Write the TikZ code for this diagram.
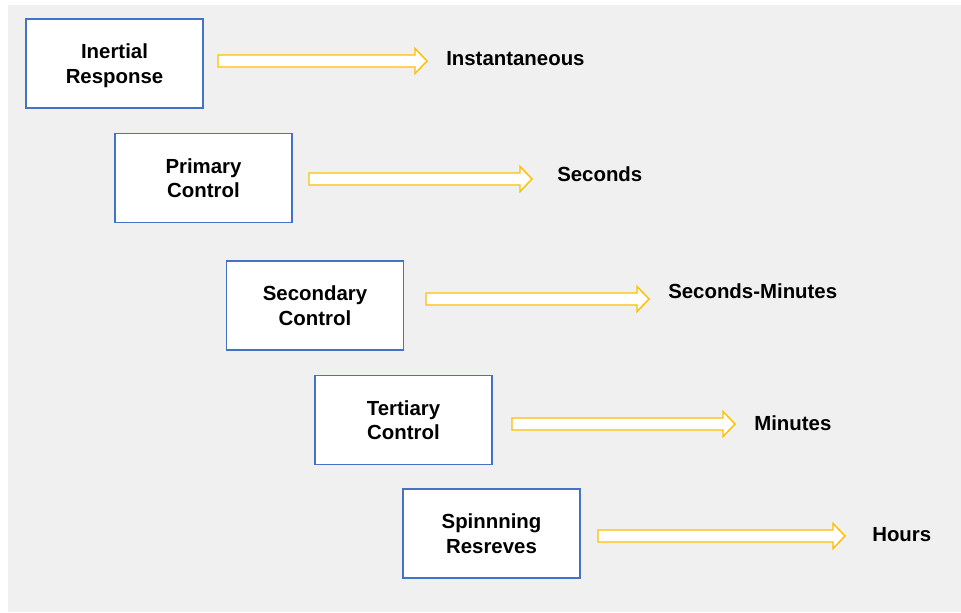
\documentclass[tikz,border=0pt]{standalone}
\usepackage{fontspec}
\setmainfont{Liberation Sans}
\usetikzlibrary{calc}
\definecolor{bggray}{HTML}{F0F0F0}
\definecolor{boxblue}{HTML}{4472C4}
\definecolor{arrowgold}{HTML}{FFC000}
\newcommand{\hollowarrow}[2]{%
  \draw[fatarrow] ($(#1)+(0,6)$) -- ($(#2)+(-12,6)$) -- ($(#2)+(-12,12.5)$) -- (#2)
    -- ($(#2)+(-12,-12.5)$) -- ($(#2)+(-12,-6)$) -- ($(#1)+(0,-6)$) -- cycle;}
\begin{document}
\begin{tikzpicture}[x=0.75pt,y=-0.75pt,
  stagebox/.style={draw=boxblue, line width=1.1pt, fill=white, minimum width=132.75pt,
    minimum height=66.75pt, inner sep=0pt, align=center, text depth=0pt,
    font=\bfseries\fontsize{15.3}{18.2}\selectfont},
  timelabel/.style={anchor=base west, inner sep=0pt, font=\bfseries\fontsize{15.3}{18.2}\selectfont},
  fatarrow/.style={draw=arrowgold, line width=1.1pt, fill=white, line join=miter}]
\useasboundingbox (0,0) rectangle (961,612);
\fill[bggray] (8,5) rectangle (961,612);

\node[stagebox] (b1) at (114.5,63.5) {Inertial\\Response};
\node[stagebox] (b2) at (203.5,178) {Primary\\Control};
\node[stagebox] (b3) at (315,305.5) {Secondary\\Control};
\node[stagebox] (b4) at (403.5,420) {Tertiary\\Control};
\node[stagebox] (b5) at (491.5,533.5) {Spinnning\\Resreves};

\node[timelabel] (t1) at (446,65) {Instantaneous};
\node[timelabel] (t2) at (557,181) {Seconds};
\node[timelabel] (t3) at (668,298) {Seconds-Minutes};
\node[timelabel] (t4) at (754,430) {Minutes};
\node[timelabel] (t5) at (872,541) {Hours};

\coordinate (s1) at (218,61);  \coordinate (e1) at (427,61);
\coordinate (s2) at (309,179); \coordinate (e2) at (532,179);
\coordinate (s3) at (426,299); \coordinate (e3) at (649,299);
\coordinate (s4) at (512,424); \coordinate (e4) at (735,424);
\coordinate (s5) at (598,536); \coordinate (e5) at (845,536);

\hollowarrow{s1}{e1}
\hollowarrow{s2}{e2}
\hollowarrow{s3}{e3}
\hollowarrow{s4}{e4}
\hollowarrow{s5}{e5}
\end{tikzpicture}
\end{document}
